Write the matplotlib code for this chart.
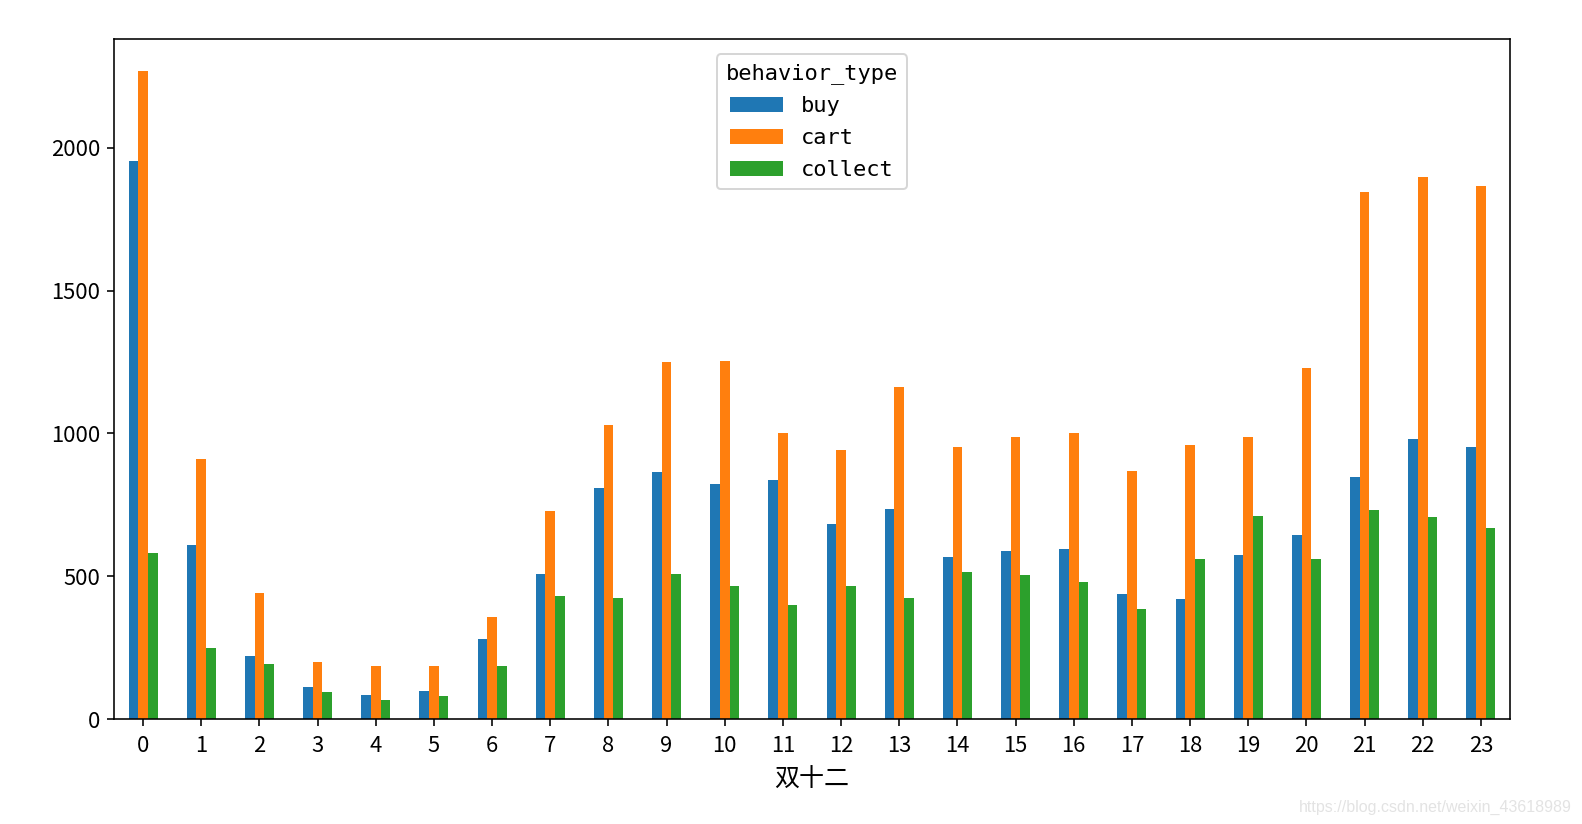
import matplotlib
matplotlib.use("Agg")
import matplotlib.pyplot as plt
import numpy as np
from matplotlib.font_manager import FontProperties

hours = list(range(24))
buy = [1954, 608, 219, 113, 85, 99, 279, 509, 809, 866, 823, 837,
       682, 735, 569, 587, 597, 438, 420, 576, 643, 848, 982, 951]
cart = [2268, 912, 442, 198, 184, 184, 357, 728, 1028, 1251, 1254, 1000,
        943, 1163, 951, 989, 1000, 869, 958, 986, 1230, 1845, 1898, 1866]
collect = [583, 247, 194, 95, 67, 81, 184, 431, 424, 509, 466, 399,
           466, 424, 516, 505, 481, 385, 562, 710, 562, 731, 707, 668]
series_names = ["buy", "cart", "collect"]
colors = ["#1f77b4", "#ff7f0e", "#2ca02c"]

plt.rcParams['font.family'] = ['Noto Sans CJK SC', 'DejaVu Sans']
plt.rcParams['font.size'] = 11

fig = plt.figure(figsize=(1582/144, 824/144), dpi=144)
ax = fig.add_axes([114/1582, 1-719/824, (1510-114)/1582, (719-39)/824])

x = np.arange(len(hours))
w = 0.5 / 3
for i, (name, vals) in enumerate(zip(series_names, [buy, cart, collect])):
    ax.bar(x + (i - 1) * w, vals, width=w, color=colors[i], label=name)

ax.set_xlim(-0.5, len(hours) - 0.5)
ax.set_ylim(0, max(cart) * 1.05)
ax.set_xticks(x)
ax.set_xticklabels([str(h) for h in hours], rotation=0)
ax.set_yticks([0, 500, 1000, 1500, 2000])
ax.tick_params(axis='x', pad=4.5)
ax.set_xlabel("双十二", fontsize=12.5, labelpad=5)

mono = FontProperties(family="DejaVu Sans Mono", size=11)
ax.legend(title="behavior_type", loc="upper center", prop=mono,
          title_fontproperties=mono, labelspacing=0.55, handlelength=2.4,
          borderaxespad=0.7)

fig.text(1572/1582, 1-807/824, "https://blog.csdn.net/weixin_43618989",
         ha="right", va="center", color="#e3e3e3", fontsize=8,
         family="Liberation Sans")

fig.savefig("out.png", dpi=144)
